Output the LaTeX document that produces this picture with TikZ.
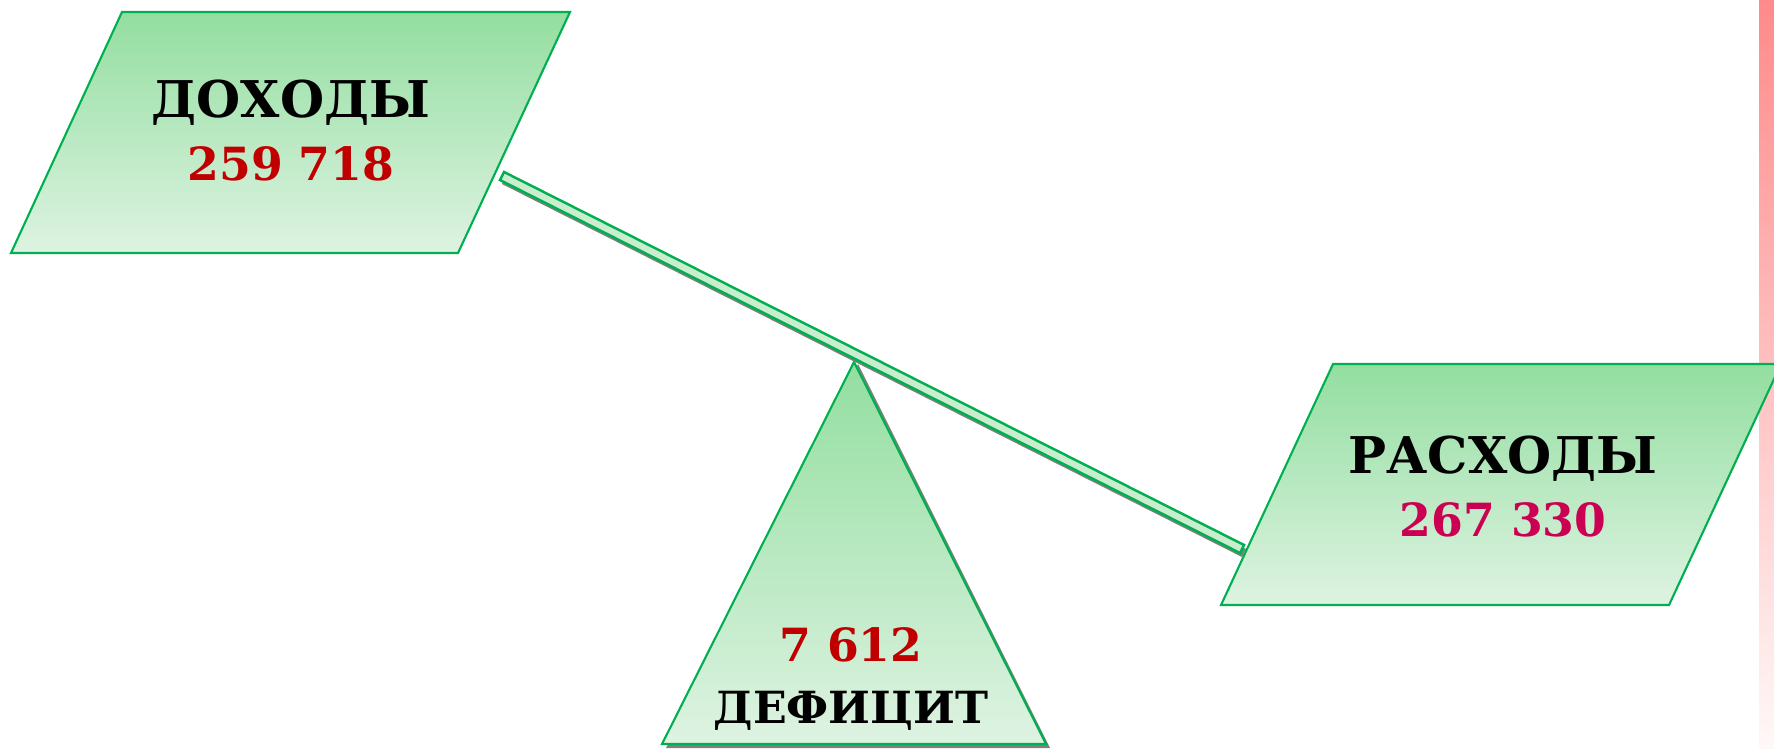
\documentclass[tikz,border=0pt]{standalone}
\usepackage{fontspec}
\setmainfont{DejaVu Serif}
\usepackage{tikz}
\usetikzlibrary{calc}
\definecolor{PlateGreen}{HTML}{93DEA0}
\definecolor{PaleGreen}{HTML}{DEF3E2}
\definecolor{EdgeGreen}{HTML}{00B050}
\definecolor{BeamGreen}{HTML}{C9EDCE}
\definecolor{SumRed}{HTML}{C00000}
\definecolor{SumCrimson}{HTML}{CC0052}
\definecolor{BarPink}{HTML}{FF8A8A}
\definecolor{BarWhite}{HTML}{FFF8F8}
\definecolor{ShadowGray}{HTML}{7F7F7F}

\begin{document}
\begin{tikzpicture}[x=0.01cm, y=-0.01cm,
  plate/.style={draw=EdgeGreen, line width=0.6pt, top color=PlateGreen, bottom color=PaleGreen},
  word/.style={font=\fontsize{14.4}{18}\selectfont\bfseries, anchor=base, inner sep=0pt},
  sum/.style={font=\fontsize{13}{16}\selectfont\bfseries, anchor=base, inner sep=0pt},
  drop/.style={fill=ShadowGray}
]
\useasboundingbox (0,0) rectangle (1774,748);
% side bar
\shade[top color=BarPink, bottom color=BarWhite] (1759,0) rectangle (1774,748);
% fulcrum
\fill[drop] (858,364) -- (1050,748) -- (666,748) -- cycle;
\path[plate] (854,362) -- (1046,744) -- (662,744) -- cycle;
% beam
\coordinate (beamL) at (502,176);
\coordinate (beamR) at (1242,549);
\fill[drop] ($(beamL)!0.045cm!90:(beamR) + (2,4)$) -- ($(beamR)!0.045cm!-90:(beamL) + (2,4)$)
  -- ($(beamR)!0.045cm!90:(beamL) + (2,4)$) -- ($(beamL)!0.045cm!-90:(beamR) + (2,4)$) -- cycle;
\filldraw[fill=BeamGreen, draw=EdgeGreen, line width=0.7pt]
  ($(beamL)!0.045cm!90:(beamR)$) -- ($(beamR)!0.045cm!-90:(beamL)$)
  -- ($(beamR)!0.045cm!90:(beamL)$) -- ($(beamL)!0.045cm!-90:(beamR)$) -- cycle;
% pans
\path[plate] (122,12) -- (570,12) -- (458,253) -- (11,253) -- cycle;
\path[plate] (1333,364) -- (1781,364) -- (1669,605) -- (1221,605) -- cycle;
% labels
\node[word] (incomeWord) at (291,117) {ДОХОДЫ};
\node[sum, text=SumRed] (incomeSum) at (291,180) {259 718};
\node[word] (costWord) at (1503,473) {РАСХОДЫ};
\node[sum, text=SumCrimson] (costSum) at (1503,536) {267 330};
\node[sum, text=SumRed] (gapSum) at (851,661) {7 612};
\node[word, font=\fontsize{12.6}{16}\selectfont\bfseries] (gapWord) at (851,723) {ДЕФИЦИТ};
\end{tikzpicture}
\end{document}
